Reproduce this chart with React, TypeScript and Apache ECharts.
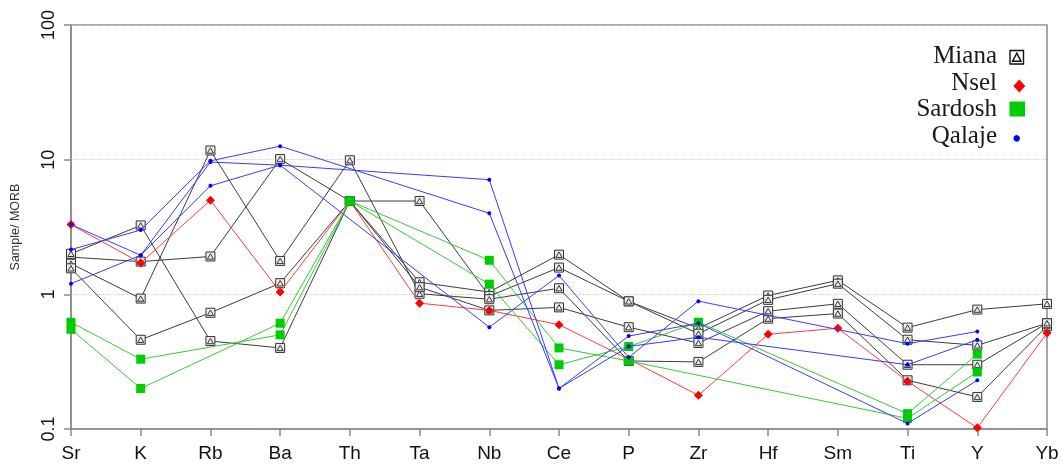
import React, { useEffect, useRef } from 'react';
import * as echarts from 'echarts';

const categories = ['Sr', 'K', 'Rb', 'Ba', 'Th', 'Ta', 'Nb', 'Ce', 'P', 'Zr', 'Hf', 'Sm', 'Ti', 'Y', 'Yb'];

// Miana samples
const miana1 = [1.89, 1.75, 1.91, 10.1, 4.93, 1.23, 1.04, 1.97, 0.887, 0.56, 0.98, 1.27, 0.566, 0.77, 0.85];
const miana2 = [2.0, 3.25, 0.45, 0.40, 4.93, 4.93, 0.97, 1.58, 0.887, 0.51, 0.91, 1.2, 0.46, 0.418, 0.61];
const miana3 = [1.69, 0.93, 11.7, 1.77, 9.9, 1.01, 0.92, 1.11, 0.32, 0.315, 0.66, 0.72, 0.23, 0.173, 0.58];
const miana4 = [1.56, 0.46, 0.73, 1.21, 4.93, 1.13, 0.76, 0.80, 0.57, 0.435, 0.75, 0.85, 0.30, 0.30, 0.61];

// Nsel sample
const nsel1 = [3.3, 1.71, 5.0, 1.04, 4.93, 0.86, 0.76, 0.595, 0.33, 0.178, 0.505, 0.56, 0.226, 0.102, 0.516];

// Sardosh samples
const sardosh1 = [0.62, 0.33, null, 0.50, 4.93, null, 1.79, 0.40, 0.32, null, null, null, 0.12, 0.265, null];
const sardosh2 = [0.55, 0.20, null, 0.61, 4.93, null, 1.19, 0.30, 0.41, 0.62, null, null, 0.13, 0.36, null];

// Qalaje samples
const qalaje1 = [2.15, 3.0, 9.8, 12.6, null, null, 4.0, 0.2, 0.49, 0.61, null, null, 0.11, 0.23, null];
const qalaje2 = [3.3, 1.95, 9.6, 9.1, null, null, 7.1, 0.2, 0.41, 0.48, null, null, 0.30, 0.46, null];
const qalaje3 = [1.2, 1.95, 6.4, 9.1, null, null, 0.57, 1.38, 0.34, 0.89, null, null, 0.43, 0.53, null];

const mianaSamples = [miana1, miana2, miana3, miana4];
const nselSamples = [nsel1];
const sardoshSamples = [sardosh1, sardosh2];
const qalajeSamples = [qalaje1, qalaje2, qalaje3];

const legendNames = ['Miana', 'Nsel', 'Sardosh', 'Qalaje'];

const MIANA_SYMBOL = 'path://M0,0L20,0L20,20L0,20ZM10,4L17,16L3,16Z';

export default function App() {
  const ref = useRef<HTMLDivElement>(null);

  useEffect(() => {
    const chart = echarts.init(ref.current as HTMLDivElement, null, { renderer: 'svg' });
    const series: any[] = [];
    mianaSamples.forEach((d) =>
      series.push({
        name: 'Miana', type: 'line', data: d, connectNulls: true,
        symbol: MIANA_SYMBOL, symbolSize: 9, z: 2,
        lineStyle: { color: '#3c3c3c', width: 1 },
        itemStyle: { color: '#ececec', borderColor: '#333', borderWidth: 1 },
      })
    );
    nselSamples.forEach((d) =>
      series.push({
        name: 'Nsel', type: 'line', data: d, connectNulls: true,
        symbol: 'diamond', symbolSize: 9, z: 3,
        lineStyle: { color: '#ff3c3c', width: 1 },
        itemStyle: { color: '#ff0000' },
      })
    );
    sardoshSamples.forEach((d) =>
      series.push({
        name: 'Sardosh', type: 'line', data: d, connectNulls: true,
        symbol: 'rect', symbolSize: 9, z: 3,
        lineStyle: { color: '#33cc33', width: 1 },
        itemStyle: { color: '#00cd00' },
      })
    );
    qalajeSamples.forEach((d) =>
      series.push({
        name: 'Qalaje', type: 'line', data: d, connectNulls: true,
        symbol: 'circle', symbolSize: 4, z: 4,
        lineStyle: { color: '#3a3aff', width: 1 },
        itemStyle: { color: '#0000ff' },
      })
    );

    const legendY = [54, 81.5, 107.5, 134];
    const legendText = legendNames.map((n, i) => ({
      type: 'text', x: 997, y: legendY[i], z: 10,
      style: {
        text: n, align: 'right', verticalAlign: 'middle', lineHeight: 23,
        fontSize: 25, fontFamily: 'Liberation Serif', fill: '#1a1a1a',
      },
    }));

    chart.setOption({
      animation: false,
      grid: {
        left: 69, right: 15, top: 25, bottom: 37, show: true,
        borderColor: '#8a8a8a', borderWidth: 1.5, backgroundColor: 'transparent',
      },
      xAxis: {
        type: 'category', data: categories, boundaryGap: false,
        axisLine: { lineStyle: { color: '#8a8a8a', width: 1.5 } },
        axisTick: { length: 7, lineStyle: { color: '#8a8a8a', width: 1.5 } },
        axisLabel: { fontFamily: 'Liberation Sans', fontSize: 19, color: '#111', margin: 14 },
        splitLine: { show: false },
      },
      yAxis: {
        type: 'log', logBase: 10, min: 0.1, max: 100,
        name: 'Sample/ MORB', nameLocation: 'middle', nameGap: 50, nameRotate: 90,
        nameTextStyle: { fontFamily: 'Liberation Sans', fontSize: 12.5, color: '#333' },
        axisLine: { show: true, lineStyle: { color: '#8a8a8a', width: 1.5 } },
        axisTick: { show: true, length: 7, lineStyle: { color: '#8a8a8a', width: 1.5 } },
        axisLabel: {
          rotate: 90, fontFamily: 'Liberation Sans', fontSize: 18, color: '#111', margin: 14,
          formatter: (v: number) => String(v),
        },
        splitLine: { show: true, lineStyle: { type: 'dotted', color: '#d4d4d4', width: 1 } },
      },
      series,
      graphic: [
        ...legendText,
        {
          type: 'rect', z: 10, shape: { x: 1010, y: 50.5, width: 13.5, height: 13.5 },
          style: { fill: 'none', stroke: '#111', lineWidth: 1.4 },
        },
        {
          type: 'polygon', z: 10, shape: { points: [[1016.75, 53.2], [1021, 61.3], [1012.5, 61.3]] },
          style: { fill: 'none', stroke: '#111', lineWidth: 1.4 },
        },
        {
          type: 'polygon', z: 10, shape: { points: [[1019.3, 79.5], [1025.3, 86], [1019.3, 92.5], [1013.3, 86]] },
          style: { fill: '#ff0000' },
        },
        {
          type: 'rect', z: 10, shape: { x: 1009.5, y: 101.5, width: 15.5, height: 15 },
          style: { fill: '#00cd00' },
        },
        {
          type: 'circle', z: 10, shape: { cx: 1016.7, cy: 138.3, r: 3.3 },
          style: { fill: '#0000ff' },
        },
      ],
    });
    return () => chart.dispose();
  }, []);

  return <div ref={ref} style={{ position: 'fixed', left: 0, top: 0, width: 1062, height: 466 }} />;
}
